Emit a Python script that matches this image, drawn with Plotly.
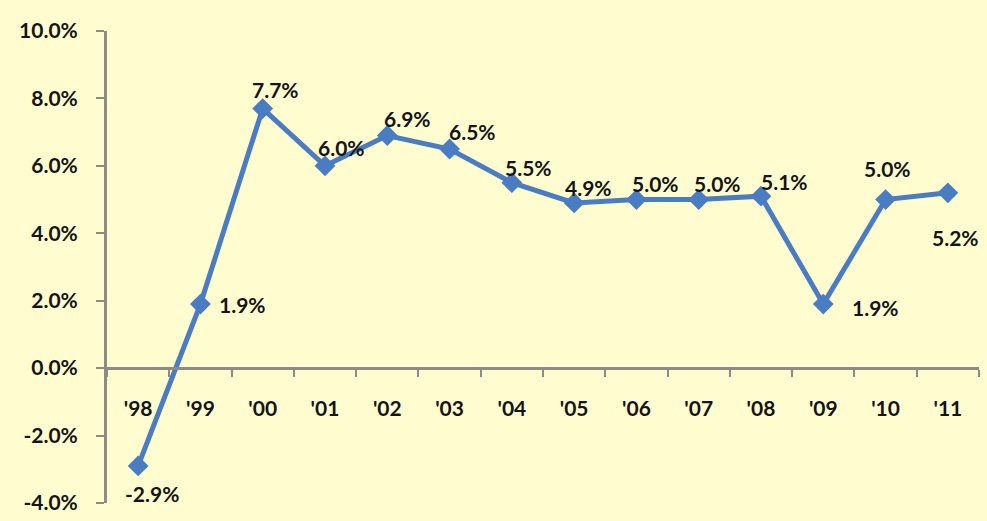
import plotly.graph_objects as go

years = ["'98", "'99", "'00", "'01", "'02", "'03", "'04", "'05", "'06", "'07", "'08", "'09", "'10", "'11"]
growth = [-2.9, 1.9, 7.7, 6.0, 6.9, 6.5, 5.5, 4.9, 5.0, 5.0, 5.1, 1.9, 5.0, 5.2]
y_ticks = [-4, -2, 0, 2, 4, 6, 8, 10]
y_tick_labels = ["-4.0%", "-2.0%", "0.0%", "2.0%", "4.0%", "6.0%", "8.0%", "10.0%"]

# label offsets in pixels (style only)
label_dx = [14, 42, 13, 16, 20, 23, 17, 14, 19, 19, 23, 52, 2, 8]
label_dy = [-28, 0, 19, 18, 17, 18, 15, 15, 16, 16, 15, -3, 31, -45]

bg = "#FFFDCF"
line_col = "#4A7CC4"
font_fam = "Lato, 'Open Sans', sans-serif"
txt_col = "#141414"

fig = go.Figure()
fig.add_trace(go.Scatter(
    x=years, y=growth,
    mode="lines+markers",
    line=dict(color=line_col, width=5),
    marker=dict(symbol="diamond", size=16, color=line_col),
    cliponaxis=False,
    showlegend=False,
))

for yr, v, dx, dy in zip(years, growth, label_dx, label_dy):
    fig.add_annotation(
        x=yr, y=v, text=f"{v:.1f}%", showarrow=False,
        xshift=dx, yshift=dy,
        font=dict(family=font_fam, size=21, color=txt_col, weight="bold"),
    )

fig.update_layout(
    width=987, height=521,
    margin=dict(l=107, r=8, t=31, b=18),
    paper_bgcolor=bg, plot_bgcolor=bg,
    font=dict(family=font_fam, size=21, color=txt_col),
    xaxis=dict(
        type="category",
        range=[-0.5, 13.5],
        anchor="free", position=4 / 14,
        showline=True, linecolor="#8C8C84", linewidth=3,
        ticks="outside", ticklen=7, tickwidth=2, tickcolor="#8C8C84",
        tickson="boundaries",
        ticklabelstandoff=21,
        tickfont=dict(family=font_fam, size=21, color=txt_col, weight="bold"),
        showgrid=False, zeroline=False, fixedrange=True,
    ),
    yaxis=dict(
        range=[-4, 10],
        tickvals=y_ticks, ticktext=y_tick_labels,
        showline=True, linecolor="#8C8C84", linewidth=3,
        ticks="outside", ticklen=8, tickwidth=2, tickcolor="#8C8C84",
        ticklabelstandoff=14,
        tickfont=dict(family=font_fam, size=21, color=txt_col, weight="bold"),
        showgrid=False, zeroline=False,
    ),
)

fig.write_html("out.html")
